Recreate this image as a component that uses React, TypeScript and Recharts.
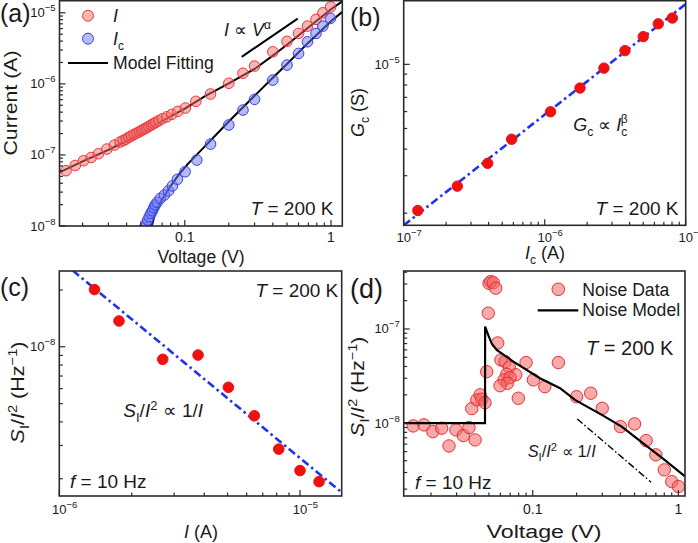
import { ScatterChart, Scatter, XAxis, YAxis } from 'recharts';

const W = 698;
const H = 543;
const FONT = '"Liberation Sans", Arial, Helvetica, sans-serif';
const INK = '#1a1a1a';
const FRAME = '#2a2a2a';
const BLUE_DASH = '#1e32f0';

// (a) total current and channel current vs voltage
const A_V_TOTAL = [0.0154, 0.0178, 0.0203, 0.0229, 0.0257, 0.0293, 0.033, 0.0361, 0.038, 0.0397, 0.0414, 0.0431, 0.045, 0.047, 0.049, 0.0508, 0.0527, 0.0547, 0.0568, 0.0589, 0.061, 0.0634, 0.0664, 0.0703, 0.0754, 0.0815, 0.0896, 0.1009, 0.119, 0.15, 0.2, 0.25, 0.3, 0.4, 0.5, 0.6, 0.69, 0.79, 0.88, 0.995];
const A_I_TOTAL = [6.0e-8, 7.1e-8, 8.3e-8, 9.2e-8, 1.04e-7, 1.21e-7, 1.38e-7, 1.52e-7, 1.6e-7, 1.67e-7, 1.77e-7, 1.85e-7, 1.95e-7, 2.03e-7, 2.12e-7, 2.22e-7, 2.31e-7, 2.41e-7, 2.52e-7, 2.63e-7, 2.75e-7, 2.87e-7, 3.03e-7, 3.23e-7, 3.44e-7, 3.72e-7, 4.1e-7, 4.57e-7, 5.68e-7, 7.2e-7, 1.02e-6, 1.41e-6, 1.78e-6, 2.83e-6, 3.96e-6, 5.13e-6, 6.5e-6, 8.07e-6, 1.0e-5, 1.21e-5];
const A_V_CHANNEL = [0.053, 0.0541, 0.0558, 0.0571, 0.0586, 0.0601, 0.0614, 0.0627, 0.0647, 0.0681, 0.0725, 0.0772, 0.0823, 0.089, 0.1005, 0.1208, 0.15, 0.2, 0.25, 0.3, 0.4, 0.5, 0.6, 0.69, 0.79, 0.88, 0.99];
const A_I_CHANNEL = [9.5e-9, 1.07e-8, 1.21e-8, 1.35e-8, 1.51e-8, 1.64e-8, 1.81e-8, 1.97e-8, 2.15e-8, 2.45e-8, 2.73e-8, 3.11e-8, 3.66e-8, 4.54e-8, 5.8e-8, 8.47e-8, 1.42e-7, 2.64e-7, 4.28e-7, 6.05e-7, 1.13e-6, 1.84e-6, 2.68e-6, 3.91e-6, 5.13e-6, 6.5e-6, 8.34e-6];
const A_FIT_TOTAL_V = [0.0139, 0.02, 0.03, 0.0371, 0.05, 0.0627, 0.08, 0.1, 0.1377, 0.2, 0.3, 0.4, 0.5, 0.7, 1.0, 1.195];
const A_FIT_TOTAL_I = [5.7e-8, 8.1e-8, 1.18e-7, 1.46e-7, 2.0e-7, 2.64e-7, 3.5e-7, 4.5e-7, 6.7e-7, 1.02e-6, 1.62e-6, 2.5e-6, 3.55e-6, 6.2e-6, 1.12e-5, 1.45e-5];
const A_FIT_CHANNEL_V = [0.0586, 0.0595, 0.0627, 0.0696, 0.0794, 0.0904, 0.1058, 0.13, 0.16, 0.2, 0.3, 0.4, 0.5, 0.7, 1.0, 1.195];
const A_FIT_CHANNEL_I = [9.5e-9, 1.0e-8, 1.51e-8, 2.32e-8, 3.57e-8, 5.2e-8, 7.6e-8, 1.18e-7, 1.83e-7, 2.95e-7, 6.8e-7, 1.22e-6, 1.9e-6, 3.8e-6, 7.6e-6, 1.03e-5];
const A_GUIDE_V = [0.245, 0.592];
const A_GUIDE_I = [2.4e-6, 8.3e-6];

// (b) channel conductance vs channel current
const B_IC = [1.26e-7, 2.4e-7, 3.94e-7, 5.83e-7, 1.1e-6, 1.78e-6, 2.63e-6, 3.71e-6, 5.0e-6, 6.39e-6, 8.04e-6];
const B_GC = [2.06e-6, 2.68e-6, 3.43e-6, 4.45e-6, 5.99e-6, 7.74e-6, 9.6e-6, 1.16e-5, 1.35e-5, 1.55e-5, 1.65e-5];
const B_FIT_IC = [1e-7, 1e-5];
const B_FIT_GC = [1.755e-6, 1.92e-5];

// (c) normalised noise vs current
const C_I = [1.4e-6, 1.77e-6, 2.69e-6, 3.77e-6, 5.04e-6, 6.46e-6, 8.16e-6, 1.0e-5, 1.2e-5];
const C_S = [2.01e-8, 1.37e-8, 8.58e-9, 9.04e-9, 6.1e-9, 4.31e-9, 2.87e-9, 2.21e-9, 1.93e-9];
const C_FIT_I = [1.0e-6, 1.5e-5];
const C_FIT_S = [2.9e-8, 1.68e-9];

// (d) normalised noise vs voltage
const D_V = [0.0151, 0.0179, 0.0206, 0.0237, 0.0266, 0.0297, 0.0334, 0.0365, 0.0402, 0.0381, 0.0413, 0.0435, 0.0447, 0.047, 0.0483, 0.0495, 0.0501, 0.0515, 0.0536, 0.0557, 0.0575, 0.0605, 0.0646, 0.069, 0.0663, 0.0764, 0.0635, 0.0698, 0.0669, 0.0596, 0.0796, 0.09, 0.101, 0.121, 0.15, 0.2, 0.25, 0.3, 0.4, 0.5, 0.6, 0.7, 0.8, 0.9, 1.0];
const D_S = [9.36e-9, 9.6e-9, 8.14e-9, 8.85e-9, 5.74e-9, 8.49e-9, 7.4e-9, 8.99e-9, 6.65e-9, 1.43e-8, 1.77e-8, 2.0e-8, 1.8e-8, 1.65e-8, 3.52e-8, 1.47e-7, 3.05e-7, 3.18e-7, 3.1e-7, 2.71e-7, 7.1e-8, 4.69e-8, 4.5e-8, 3.93e-8, 3.3e-8, 3.27e-8, 2.88e-8, 3.05e-8, 2.65e-8, 2.5e-8, 1.84e-8, 4.4e-8, 2.88e-8, 2.44e-8, 4.4e-8, 1.91e-8, 2.08e-8, 1.44e-8, 9.2e-9, 9.84e-9, 6.54e-9, 4.62e-9, 3.2e-9, 2.4e-9, 2.13e-9];
const D_MODEL_V = [0.013, 0.047, 0.0471, 0.0482, 0.0495, 0.0523, 0.0566, 0.0736, 0.112, 0.154, 0.195, 0.3, 0.408, 0.6, 0.8, 1.11];
const D_MODEL_S = [1.0e-8, 1.0e-8, 1.06e-7, 9.6e-8, 8.6e-8, 7.0e-8, 6.0e-8, 4.5e-8, 3.0e-8, 2.35e-8, 1.77e-8, 1.22e-8, 9.2e-9, 5.8e-9, 4.1e-9, 2.72e-9];
const D_GUIDE_V = [0.202, 0.649];
const D_GUIDE_S = [1.11e-8, 2.37e-9];

type TickSpec = { v: number; text: string; sup?: string };

const A_X_TICKS: TickSpec[] = [{ v: 0.1, text: '0.1' }, { v: 1, text: '1' }];
const A_Y_TICKS: TickSpec[] = [
  { v: 1e-8, text: '10', sup: '−8' },
  { v: 1e-7, text: '10', sup: '−7' },
  { v: 1e-6, text: '10', sup: '−6' },
  { v: 1e-5, text: '10', sup: '−5' },
];
const B_X_TICKS: TickSpec[] = [
  { v: 1e-7, text: '10', sup: '−7' },
  { v: 1e-6, text: '10', sup: '−6' },
  { v: 1e-5, text: '10', sup: '−5' },
];
const B_Y_TICKS: TickSpec[] = [{ v: 1e-5, text: '10', sup: '−5' }];
const C_X_TICKS: TickSpec[] = [
  { v: 1e-6, text: '10', sup: '−6' },
  { v: 1e-5, text: '10', sup: '−5' },
];
const C_Y_TICKS: TickSpec[] = [{ v: 1e-8, text: '10', sup: '−8' }];
const D_X_TICKS: TickSpec[] = [{ v: 0.1, text: '0.1' }, { v: 1, text: '1' }];
const D_Y_TICKS: TickSpec[] = [
  { v: 1e-8, text: '10', sup: '−8' },
  { v: 1e-7, text: '10', sup: '−7' },
];

type Pt = { x: number; y: number };
const zip = (xs: number[], ys: number[]): Pt[] => xs.map((x, i) => ({ x, y: ys[i] }));

// 1..9 x 10^k inside the domain, for log axes
function logTicks([lo, hi]: [number, number]) {
  const out: number[] = [];
  for (let e = Math.floor(Math.log10(lo)); e <= Math.ceil(Math.log10(hi)); e++) {
    for (let m = 1; m <= 9; m++) {
      const v = Number(`${m}e${e}`);
      if (v >= lo * 0.9999 && v <= hi * 1.0001) out.push(v);
    }
  }
  return out;
}

const findLabel = (labels: TickSpec[], v: number) =>
  labels.find((t) => Math.abs(Math.log10(t.v / v)) < 1e-6);

function BottomTick({ x, y, payload, labels, gap }: any) {
  const lab = findLabel(labels, payload.value);
  return (
    <g>
      <line x1={x} y1={y} x2={x} y2={y - (lab ? 6 : 3.5)} stroke={FRAME} strokeWidth={1.2} />
      {lab &&
        (lab.sup ? (
          <text x={x - 7.2} y={y + gap} fontSize={13} fill={INK} fontFamily={FONT}>
            {lab.text}
            <tspan dy={-6} fontSize={9.5}>{lab.sup}</tspan>
          </text>
        ) : (
          <text x={x} y={y + gap} textAnchor="middle" fontSize={14} fill={INK} fontFamily={FONT}>
            {lab.text}
          </text>
        ))}
    </g>
  );
}

function LeftTick({ x, y, payload, labels }: any) {
  const lab = findLabel(labels, payload.value);
  return (
    <g>
      <line x1={x} y1={y} x2={x + (lab ? 6 : 3.5)} y2={y} stroke={FRAME} strokeWidth={1.2} />
      {lab && (
        <text x={x - 4} y={y + 4.5} textAnchor="end" fontSize={13} fill={INK} fontFamily={FONT}>
          {lab.text}
          {lab.sup && <tspan dy={-6} fontSize={9.5}>{lab.sup}</tspan>}
        </text>
      )}
    </g>
  );
}

const dot = (r: number, fill: string, stroke: string) => (p: any) => (
  <circle cx={p.cx} cy={p.cy} r={r} fill={fill} stroke={stroke} strokeWidth={1} />
);
const noDot = () => <g />;

type Box = { l: number; t: number; r: number; b: number };

const BOX_A: Box = { l: 59.5, t: 0.7, r: 342.3, b: 226 };
const BOX_B: Box = { l: 403.7, t: 0.7, r: 685.7, b: 225.3 };
const BOX_C: Box = { l: 59.3, t: 271, r: 341.7, b: 496 };
const BOX_D: Box = { l: 403.7, t: 271, r: 685, b: 496 };

// axes are 1px thick so they still render; the plot area stays on the box
function Panel({ box, xDomain, yDomain, xTicks, yTicks, gap, children }: {
  box: Box;
  xDomain: [number, number];
  yDomain: [number, number];
  xTicks: TickSpec[];
  yTicks: TickSpec[];
  gap: number;
  children: any;
}) {
  return (
    <div style={{ position: 'absolute', left: 0, top: 0 }}>
      <ScatterChart
        width={W}
        height={H}
        margin={{ top: box.t, left: box.l - 1, right: W - box.r, bottom: H - box.b - 1 }}
      >
        <XAxis
          type="number"
          dataKey="x"
          scale="log"
          domain={xDomain}
          allowDataOverflow
          ticks={logTicks(xDomain)}
          interval={0}
          height={1}
          axisLine={false}
          tickLine={false}
          tickSize={0}
          tickMargin={0}
          tick={(p: any) => <BottomTick {...p} labels={xTicks} gap={gap} />}
        />
        <YAxis
          type="number"
          dataKey="y"
          scale="log"
          domain={yDomain}
          allowDataOverflow
          ticks={logTicks(yDomain)}
          interval={0}
          width={1}
          axisLine={false}
          tickLine={false}
          tickSize={0}
          tickMargin={0}
          tick={(p: any) => <LeftTick {...p} labels={yTicks} />}
        />
        {children}
      </ScatterChart>
    </div>
  );
}

const Frame = ({ box }: { box: Box }) => (
  <rect x={box.l} y={box.t} width={box.r - box.l} height={box.b - box.t} fill="none" stroke={FRAME} strokeWidth={1.6} />
);

const it = { fontStyle: 'italic' as const };

export default function App() {
  return (
    <div style={{ position: 'absolute', left: 0, top: 0, width: W, height: H, background: '#fff', fontFamily: FONT }}>
      {/* (a) */}
      <Panel box={BOX_A} xDomain={[0.0139, 1.195]} yDomain={[1e-8, 1.48e-5]} xTicks={A_X_TICKS} yTicks={A_Y_TICKS} gap={16}>
        <Scatter data={zip(A_FIT_TOTAL_V, A_FIT_TOTAL_I)} line={{ stroke: '#000', strokeWidth: 2 }} shape={noDot} isAnimationActive={false} />
        <Scatter data={zip(A_FIT_CHANNEL_V, A_FIT_CHANNEL_I)} line={{ stroke: '#000', strokeWidth: 2 }} shape={noDot} isAnimationActive={false} />
        <Scatter data={zip(A_V_TOTAL, A_I_TOTAL)} shape={dot(5.3, 'rgba(240,110,110,0.5)', '#ee3535')} isAnimationActive={false} />
        <Scatter data={zip(A_V_CHANNEL, A_I_CHANNEL)} shape={dot(5.3, 'rgba(110,120,240,0.5)', '#3340ee')} isAnimationActive={false} />
        <Scatter data={zip(A_GUIDE_V, A_GUIDE_I)} line={{ stroke: '#000', strokeWidth: 2 }} shape={noDot} isAnimationActive={false} />
      </Panel>

      {/* (b) */}
      <Panel box={BOX_B} xDomain={[1e-7, 1e-5]} yDomain={[1.755e-6, 1.99e-5]} xTicks={B_X_TICKS} yTicks={B_Y_TICKS} gap={16.4}>
        <Scatter data={zip(B_FIT_IC, B_FIT_GC)} line={{ stroke: BLUE_DASH, strokeWidth: 2.6, strokeDasharray: '8 3.5 2.5 3.5' }} shape={noDot} isAnimationActive={false} />
        <Scatter data={zip(B_IC, B_GC)} shape={dot(5.2, '#f01010', '#f01010')} isAnimationActive={false} />
      </Panel>

      {/* (c) */}
      <Panel box={BOX_C} xDomain={[1e-6, 1.49e-5]} yDomain={[1.62e-9, 2.52e-8]} xTicks={C_X_TICKS} yTicks={C_Y_TICKS} gap={18}>
        <Scatter data={zip(C_FIT_I, C_FIT_S)} line={{ stroke: BLUE_DASH, strokeWidth: 2.6, strokeDasharray: '8 3.5 2.5 3.5' }} shape={noDot} isAnimationActive={false} />
        <Scatter data={zip(C_I, C_S)} shape={dot(5.3, '#f01010', '#f01010')} isAnimationActive={false} />
      </Panel>

      {/* (d) */}
      <Panel box={BOX_D} xDomain={[0.013, 1.11]} yDomain={[1.69e-9, 4.12e-7]} xTicks={D_X_TICKS} yTicks={D_Y_TICKS} gap={18}>
        <Scatter data={zip(D_V, D_S)} shape={dot(6.2, 'rgba(240,100,100,0.55)', '#ea3030')} isAnimationActive={false} />
        <Scatter data={zip(D_MODEL_V, D_MODEL_S)} line={{ stroke: '#000', strokeWidth: 2.2 }} shape={noDot} isAnimationActive={false} />
        <Scatter data={zip(D_GUIDE_V, D_GUIDE_S)} line={{ stroke: '#000', strokeWidth: 1.4, strokeDasharray: '7 2.5 1.5 2.5' }} shape={noDot} isAnimationActive={false} />
      </Panel>

      <svg width={W} height={H} style={{ position: 'absolute', left: 0, top: 0 }} fontFamily={FONT} fill={INK}>
        <Frame box={BOX_A} />
        <Frame box={BOX_B} />
        <Frame box={BOX_C} />
        <Frame box={BOX_D} />

        {/* (a) labels and legend */}
        <text x={0} y={22} fontSize={25}>(a)</text>
        <circle cx={88} cy={15.7} r={5.5} fill="rgba(240,110,110,0.5)" stroke="#ee3535" />
        <circle cx={88} cy={38.7} r={5.5} fill="rgba(110,120,240,0.5)" stroke="#3340ee" />
        <line x1={68} y1={63} x2={108} y2={63} stroke="#000" strokeWidth={2} />
        <text x={113} y={22} fontSize={18}><tspan {...it}>I</tspan></text>
        <text x={113} y={45} fontSize={18}>
          <tspan {...it}>I</tspan>
          <tspan dy={5} fontSize={12}>c</tspan>
        </text>
        <text x={113} y={69} fontSize={17.6}>Model Fitting</text>
        <text x={224} y={35.5} fontSize={18}>
          <tspan {...it}>I</tspan>
          <tspan>{' ∝ '}</tspan>
          <tspan {...it}>V</tspan>
          <tspan dy={-7} fontSize={12}>α</tspan>
        </text>
        <text x={333.5} y={215} fontSize={19} textAnchor="end">
          <tspan {...it}>T</tspan>{' = 200 K'}
        </text>
        <text x={201} y={263} fontSize={17.6} textAnchor="middle">Voltage (V)</text>
        <text transform="translate(16.5,103) rotate(-90)" fontSize={19} textAnchor="middle" textLength={105} lengthAdjust="spacingAndGlyphs">Current (A)</text>

        {/* (b) */}
        <text x={350} y={26} fontSize={25}>(b)</text>
        <text x={573.3} y={131} fontSize={18}>
          <tspan {...it}>G</tspan>
          <tspan dy={5} fontSize={12}>c</tspan>
          <tspan dy={-5}>{' ∝ '}</tspan>
          <tspan {...it}>I</tspan>
          <tspan dy={5} fontSize={12}>c</tspan>
          <tspan dx={-6.5} dy={-13} fontSize={12}>β</tspan>
        </text>
        <text x={678.5} y={215} fontSize={19} textAnchor="end">
          <tspan {...it}>T</tspan>{' = 200 K'}
        </text>
        <text x={545} y={258.5} fontSize={18} textAnchor="middle">
          <tspan {...it}>I</tspan>
          <tspan dy={5} fontSize={12}>c</tspan>
          <tspan dy={-5}>{' (A)'}</tspan>
        </text>
        <text transform="translate(364,112.5) rotate(-90)" fontSize={18} textAnchor="middle">
          <tspan {...it}>G</tspan>
          <tspan dy={5} fontSize={12}>c</tspan>
          <tspan dy={-5}>{' (S)'}</tspan>
        </text>

        {/* (c) */}
        <text x={0} y={296} fontSize={25}>(c)</text>
        <text x={338.3} y={296.7} fontSize={19} textAnchor="end">
          <tspan {...it}>T</tspan>{' = 200 K'}
        </text>
        <text x={70} y={488.3} fontSize={19}>
          <tspan {...it}>f</tspan>{' = 10 Hz'}
        </text>
        <text x={123.3} y={417} fontSize={19}>
          <tspan {...it}>S</tspan>
          <tspan dy={5} fontSize={13}>I</tspan>
          <tspan dy={-5}>/</tspan>
          <tspan {...it}>I</tspan>
          <tspan dy={-7} fontSize={13}>2</tspan>
          <tspan dy={7}>{' ∝ 1/'}</tspan>
          <tspan {...it}>I</tspan>
        </text>
        <text x={201} y={538} fontSize={18} textAnchor="middle">
          <tspan {...it}>I</tspan>{' (A)'}
        </text>
        <text transform="translate(23.5,392.5) rotate(-90)" fontSize={19} textAnchor="middle" textLength={102} lengthAdjust="spacingAndGlyphs">
          <tspan {...it}>S</tspan>
          <tspan dy={5} fontSize={13}>I</tspan>
          <tspan dy={-5}>/</tspan>
          <tspan {...it}>I</tspan>
          <tspan dy={-7} fontSize={13}>2</tspan>
          <tspan dy={7}>{' (Hz'}</tspan>
          <tspan dy={-7} fontSize={13}>−1</tspan>
          <tspan dy={7}>)</tspan>
        </text>

        {/* (d) */}
        <text x={350} y={298} fontSize={27}>(d)</text>
        <circle cx={558.3} cy={289.3} r={6.3} fill="rgba(240,100,100,0.55)" stroke="#ea3030" />
        <text x={582.3} y={295.6} fontSize={17.6}>Noise Data</text>
        <line x1={537.7} y1={310.3} x2={578.3} y2={310.3} stroke="#000" strokeWidth={2.2} />
        <text x={582.3} y={316} fontSize={17.6}>Noise Model</text>
        <text x={673.3} y={355} fontSize={20} textAnchor="end">
          <tspan {...it}>T</tspan>{' = 200 K'}
        </text>
        <text x={415} y={489} fontSize={19}>
          <tspan {...it}>f</tspan>{' = 10 Hz'}
        </text>
        <text x={527.7} y={457} fontSize={16} textLength={68} lengthAdjust="spacingAndGlyphs">
          <tspan {...it}>S</tspan>
          <tspan dy={4} fontSize={11}>I</tspan>
          <tspan dy={-4}>/</tspan>
          <tspan {...it}>I</tspan>
          <tspan dy={-6} fontSize={11}>2</tspan>
          <tspan dy={6}>{' ∝ 1/'}</tspan>
          <tspan {...it}>I</tspan>
        </text>
        <text x={544} y={538} fontSize={18} textAnchor="middle" textLength={115} lengthAdjust="spacingAndGlyphs">Voltage (V)</text>
        <text transform="translate(364,386.7) rotate(-90)" fontSize={19} textAnchor="middle" textLength={100} lengthAdjust="spacingAndGlyphs">
          <tspan {...it}>S</tspan>
          <tspan dy={5} fontSize={13}>I</tspan>
          <tspan dy={-5}>/</tspan>
          <tspan {...it}>I</tspan>
          <tspan dy={-7} fontSize={13}>2</tspan>
          <tspan dy={7}>{' (Hz'}</tspan>
          <tspan dy={-7} fontSize={13}>−1</tspan>
          <tspan dy={7}>)</tspan>
        </text>
      </svg>
    </div>
  );
}
